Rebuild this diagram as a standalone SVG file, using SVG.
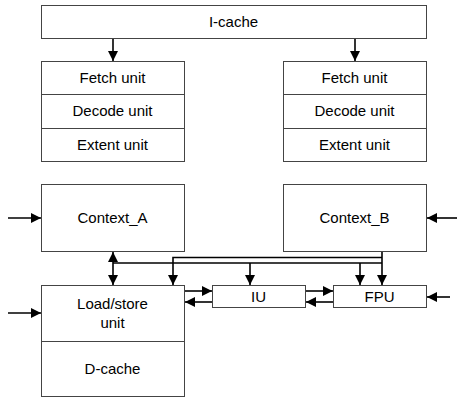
<svg xmlns="http://www.w3.org/2000/svg" width="457" height="398" viewBox="0 0 457 398">
<defs>
<style>
.box{fill:#fff;stroke:#444;stroke-width:1}
.t{font-family:"Liberation Sans",Arial,sans-serif;font-size:15px;fill:#000;text-anchor:middle}
.c{fill:none;stroke:#000;stroke-width:1.6}
</style>
<marker id="ah" markerUnits="userSpaceOnUse" markerWidth="10" markerHeight="10" viewBox="0 0 10 10" refX="10" refY="5" orient="auto">
<path d="M0,0 L10,5 L0,10 z" fill="#000"/>
</marker>
<marker id="as" markerUnits="userSpaceOnUse" markerWidth="10" markerHeight="10" viewBox="0 0 10 10" refX="0" refY="5" orient="auto">
<path d="M10,0 L0,5 L10,10 z" fill="#000"/>
</marker>
</defs>
<rect width="457" height="398" fill="#fff"/>
<g id="icache"><rect class="box" x="41.5" y="5.5" width="385" height="33"/><text class="t" x="233.5" y="27">I-cache</text></g>
<g id="pipeA">
<rect class="box" x="41.5" y="61.5" width="143" height="33"/><text class="t" x="112.5" y="83">Fetch unit</text>
<rect class="box" x="41.5" y="94.5" width="143" height="34"/><text class="t" x="112.5" y="116">Decode unit</text>
<rect class="box" x="41.5" y="128.5" width="143" height="33"/><text class="t" x="112.5" y="150">Extent unit</text>
</g>
<g id="pipeB">
<rect class="box" x="283.5" y="61.5" width="143" height="33"/><text class="t" x="354.5" y="83">Fetch unit</text>
<rect class="box" x="283.5" y="94.5" width="143" height="34"/><text class="t" x="354.5" y="116">Decode unit</text>
<rect class="box" x="283.5" y="128.5" width="143" height="33"/><text class="t" x="354.5" y="150">Extent unit</text>
</g>
<g id="contextA"><rect class="box" x="41.5" y="184.5" width="143" height="67"/><text class="t" x="112.5" y="223">Context_A</text></g>
<g id="contextB"><rect class="box" x="283.5" y="184.5" width="143" height="67"/><text class="t" x="354.5" y="223">Context_B</text></g>
<g id="lsu">
<rect class="box" x="41.5" y="285.5" width="143" height="56"/><text class="t" x="112.5" y="309">Load/store</text><text class="t" x="112.5" y="328">unit</text>
<rect class="box" x="41.5" y="341.5" width="143" height="55"/><text class="t" x="112.5" y="374">D-cache</text>
</g>
<g id="iu"><rect class="box" x="212.5" y="285.5" width="93" height="22"/><text class="t" x="258.5" y="302">IU</text></g>
<g id="fpu"><rect class="box" x="333.5" y="285.5" width="93" height="22"/><text class="t" x="379.5" y="302">FPU</text></g>
<g id="connectors">
<path class="c" d="M113,39 V61" marker-end="url(#ah)"/>
<path class="c" d="M355,39 V61" marker-end="url(#ah)"/>
<path class="c" d="M8,218 H41" marker-end="url(#ah)"/>
<path class="c" d="M457,218 H427" marker-end="url(#ah)"/>
<path class="c" d="M8,313 H41" marker-end="url(#ah)"/>
<path class="c" d="M450,297 H427" marker-end="url(#ah)"/>
<path class="c" d="M113,262 V285" marker-end="url(#ah)"/>
<path class="c" d="M113,262 V252" marker-end="url(#ah)"/>
<path class="c" d="M113,263 H382"/>
<path class="c" d="M382,252 V285" marker-end="url(#ah)"/>
<path class="c" d="M382,257.5 H173 V285" marker-end="url(#ah)"/>
<path class="c" d="M250,263 V285" marker-end="url(#ah)"/>
<path class="c" d="M360,263 V285" marker-end="url(#ah)"/>
<path class="c" d="M185,291 H212" marker-end="url(#ah)"/>
<path class="c" d="M212,302 H185" marker-end="url(#ah)"/>
<path class="c" d="M306,291 H333" marker-end="url(#ah)"/>
<path class="c" d="M333,302 H306" marker-end="url(#ah)"/>
</g>
</svg>
